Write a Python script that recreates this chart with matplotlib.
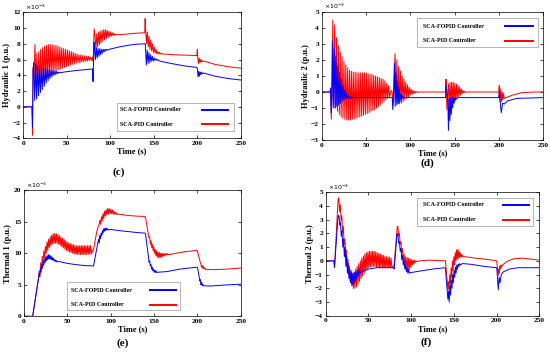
import matplotlib
matplotlib.use("Agg")
import matplotlib.pyplot as plt
from matplotlib.lines import Line2D
from matplotlib.patches import Rectangle

# all values are in units of 1e-3 p.u.
# a series is a list of pieces: plain knots (times, values) or an
# oscillation burst (start, period, peaks, troughs)

# ---- (c) Hydraulic 1 ----
c_fopid = [
    ([0, 10, 10.6, 11.2], [0, 0, -2.6, 4.6]),
    (12, 2.2, [5.6, 5.4, 5.2, 5.0, 5.0, 4.9, 4.9, 4.8, 4.7, 4.6, 4.6, 4.5, 4.5, 4.4, 4.4],
              [0.8, 1.0, 1.4, 1.8, 2.2, 2.6, 3.0, 3.3, 3.6, 3.8, 4.0, 4.1, 4.2, 4.3, 4.35]),
    ([46, 60, 79.6, 80.2, 81.4], [4.4, 4.6, 4.8, 3.2, 8.2]),
    (82, 2.0, [7.6, 7.5, 7.4, 7.4, 7.3, 7.3, 7.3, 7.3],
              [6.0, 6.2, 6.4, 6.6, 6.8, 7.0, 7.1, 7.2]),
    ([99, 110, 120, 130, 139.6, 140.2], [7.3, 7.6, 7.8, 7.95, 8.0, 8.0]),
    (140.5, 2.0, [7.5, 7.2, 6.9, 6.6, 6.4, 6.2, 6.1, 6.0],
                 [5.3, 5.5, 5.6, 5.8, 5.8, 5.9, 5.9, 5.9]),
    ([157, 170, 185, 199.6], [5.8, 5.5, 5.2, 5.0]),
    (200.2, 1.6, [4.8, 4.5, 4.4, 4.4], [3.8, 3.9, 4.1, 4.2]),
    ([207, 220, 235, 250], [4.3, 3.9, 3.6, 3.4]),
]
c_pid = [
    ([0, 10, 10.6], [0, 0, -3.6]),
    (11.2, 2.2, [5.0, 7.9, 6.8, 7.0, 7.3, 7.5, 7.7, 7.8, 7.9, 7.9, 7.9, 7.8, 7.8, 7.7, 7.6, 7.5,
                 7.4, 7.3, 7.2, 7.1, 7.0, 6.9, 6.8, 6.7, 6.6, 6.6, 6.5, 6.5, 6.4, 6.4, 6.3],
                [3.8, 3.0, 2.8, 2.9, 3.1, 3.3, 3.5, 3.7, 3.9, 4.1, 4.3, 4.4, 4.6, 4.7, 4.8, 4.9,
                 5.0, 5.1, 5.2, 5.3, 5.4, 5.4, 5.5, 5.6, 5.6, 5.7, 5.7, 5.8, 5.8, 5.9, 5.9]),
    ([79.6, 80.3, 81.5], [6.3, 5.8, 9.9]),
    (82.5, 2.0, [9.0, 9.3, 9.5, 9.6, 9.7, 9.8, 9.8, 9.7, 9.6, 9.5, 9.4, 9.3, 9.2],
                [7.3, 7.6, 7.9, 8.1, 8.3, 8.5, 8.7, 8.8, 8.9, 9.0, 9.05, 9.1, 9.15]),
    ([110, 120, 130, 139.6, 140.1], [9.15, 9.25, 9.35, 9.4, 11.2]),
    (140.6, 2.0, [10.0, 9.5, 9.0, 8.5, 8.0, 7.6, 7.3, 7.0, 6.9, 6.8],
                 [8.0, 7.6, 7.3, 7.1, 6.9, 6.8, 6.75, 6.7, 6.7, 6.7]),
    ([162, 175, 190, 199.6, 200.1], [6.7, 6.6, 6.55, 6.5, 7.3]),
    (200.6, 1.6, [6.3, 6.2, 6.0, 5.9], [5.5, 5.6, 5.7, 5.75]),
    ([208, 220, 235, 250], [5.8, 5.4, 5.1, 4.9]),
]

# ---- (d) Hydraulic 2 ----
d_fopid = [
    ([0, 9.5, 10, 10.6, 11.4], [0, 0, 0.25, -1.3, -0.3]),
    (12, 2.0, [3.2, 2.7, 2.2, 1.6, 1.2, 0.8, 0.4, 0.1, -0.1, -0.2, -0.3, -0.3, -0.35, -0.35],
              [-1.0, -1.0, -0.9, -0.8, -0.7, -0.6, -0.5, -0.45, -0.4, -0.4, -0.4, -0.38, -0.36, -0.35]),
    ([41, 79.6, 80.2, 81], [-0.35, -0.35, -1.1, -0.5]),
    (82, 1.8, [1.8, 1.2, 0.6, 0.2, -0.1, -0.2, -0.3],
              [-0.9, -0.8, -0.7, -0.6, -0.5, -0.4, -0.35]),
    ([96, 139.6, 140.4], [-0.35, -0.35, 0.4]),
    (142.2, 1.6, [-0.4, -0.4, -0.4, -0.35, -0.35, -0.35],
                 [-2.4, -1.8, -1.4, -1.0, -0.7, -0.5]),
    ([153, 199.6, 200.2, 202.6, 204, 206, 210, 220, 250],
     [-0.35, -0.35, 0.0, -1.3, -0.7, -0.75, -0.55, -0.4, -0.35]),
]
d_pid = [
    ([0, 9.5, 10, 10.8, 11.6], [0, 0, 0.2, -1.7, 0.0]),
    (12.5, 2.1, [4.5, 4.2, 3.4, 2.9, 2.5, 2.2, 1.9, 1.7, 1.5, 1.35, 1.3, 1.25, 1.25, 1.2, 1.2, 1.2,
                 1.2, 1.2, 1.2, 1.15, 1.1, 1.1, 1.05, 1.0, 0.95, 0.9, 0.85, 0.8, 0.7, 0.55, 0.4],
                [-0.8, -1.0, -1.2, -1.4, -1.55, -1.65, -1.7, -1.75, -1.75, -1.75, -1.7, -1.7, -1.65,
                 -1.6, -1.55, -1.5, -1.45, -1.4, -1.35, -1.3, -1.2, -1.15, -1.1, -1.0, -0.9, -0.8,
                 -0.7, -0.6, -0.5, -0.4, -0.3]),
    ([78.5, 79.5, 80.3, 81.5], [0.1, 0.0, -0.8, 0.5]),
    (82.8, 2.0, [2.4, 2.0, 1.6, 1.3, 1.0, 0.8, 0.6, 0.45, 0.3, 0.2, 0.1, 0.05, 0.02],
                [-0.6, -0.75, -0.75, -0.7, -0.6, -0.5, -0.4, -0.3, -0.2, -0.15, -0.1, -0.05, -0.02]),
    ([110, 139.6, 140.3, 141.2, 142], [0, 0, 0.8, -1.1, -0.3]),
    (143, 1.8, [0.5, 0.6, 0.6, 0.6, 0.55, 0.5, 0.4, 0.3, 0.2, 0.1, 0.05],
               [-1.0, -0.8, -0.7, -0.6, -0.5, -0.4, -0.3, -0.2, -0.1, -0.05, -0.02]),
    ([165, 199.6, 200.3, 201.2], [0, 0, 0.4, -0.6]),
    (202, 1.6, [0.2, 0.0, -0.1], [-0.6, -0.5, -0.4]),
    ([208, 215, 225, 240, 250], [-0.35, -0.2, -0.05, 0.0, 0.0]),
]

# ---- (e) Thermal 1 ----
e_fopid = [
    ([0, 10, 17], [0, 0, 6.2]),
    (17.5, 1.5, [6.8, 7.6, 8.2, 8.7, 9.1, 9.4, 9.6, 9.8, 9.7, 9.6, 9.4, 9.2, 9.0, 8.9],
                [6.3, 7.0, 7.6, 8.1, 8.5, 8.8, 9.0, 9.1, 9.1, 9.0, 8.9, 8.8, 8.7, 8.65]),
    ([40, 50, 60, 70, 79.6, 80.2, 84], [8.7, 8.4, 8.2, 8.05, 8.0, 8.0, 10.8]),
    (86, 1.5, [12.2, 12.8, 13.2, 13.6, 13.9, 14.0, 14.0, 13.9],
              [11.6, 12.3, 12.8, 13.2, 13.5, 13.6, 13.7, 13.7]),
    ([99, 110, 120, 130, 139.6, 140.2, 143], [13.8, 13.6, 13.45, 13.3, 13.2, 13.1, 10.0]),
    (143.5, 1.5, [9.6, 8.8, 8.2, 7.8, 7.5, 7.3, 7.2], [8.6, 8.0, 7.5, 7.2, 7.0, 6.95, 6.95]),
    ([155, 165, 180, 199.6, 200.2, 203], [7.0, 7.1, 7.5, 7.8, 7.7, 5.6]),
    (203.5, 1.4, [5.8, 5.4, 5.1], [5.0, 4.9, 4.85]),
    ([208, 215, 230, 250], [4.85, 4.8, 4.95, 5.1]),
]
e_pid = [
    ([0, 10, 17], [0, 0, 6.4]),
    (17.5, 1.8, [7.2, 8.5, 9.5, 10.4, 11.1, 11.8, 12.2, 12.6, 12.9, 13.1, 13.15, 13.1, 13.0, 12.8,
                 12.6, 12.4, 12.2, 12.0, 11.8, 11.65, 11.55, 11.45, 11.35, 11.25, 11.2, 11.2, 11.2,
                 11.2, 11.2, 11.2, 11.2, 11.2, 11.2, 11.25],
                [6.7, 7.6, 8.6, 9.3, 10.0, 10.5, 10.9, 11.2, 11.5, 11.55, 11.6, 11.55, 11.45, 11.25,
                 11.05, 10.85, 10.65, 10.45, 10.3, 10.2, 10.1, 10.0, 9.9, 9.85, 9.8, 9.8, 9.8, 9.8,
                 9.8, 9.8, 9.8, 9.85, 9.85, 9.9]),
    ([79.6, 80.2, 84, 87], [10.6, 10.6, 13.5, 14.8]),
    (87.5, 1.8, [15.2, 15.8, 16.3, 16.7, 16.9, 17.1, 17.1, 17.0, 16.9, 16.7, 16.5, 16.4],
                [14.6, 15.1, 15.5, 15.9, 16.1, 16.2, 16.3, 16.3, 16.2, 16.2, 16.2, 16.15]),
    ([110, 120, 130, 139.6, 140.2, 144], [16.2, 16.0, 15.9, 15.85, 15.7, 12.5]),
    (145, 1.6, [12.6, 12.0, 11.4, 11.0, 10.6, 10.4, 10.2, 10.1, 10.0, 10.0, 9.95, 9.95, 9.95, 9.95],
               [11.4, 10.9, 10.4, 10.0, 9.6, 9.4, 9.3, 9.3, 9.4, 9.5, 9.6, 9.7, 9.75, 9.8]),
    ([168, 175, 185, 199.6, 200.2, 203.5], [9.8, 10.0, 10.25, 10.45, 10.3, 8.5]),
    (204, 1.5, [8.4, 8.1, 7.9, 7.7], [7.8, 7.6, 7.5, 7.45]),
    ([211, 220, 235, 250], [7.45, 7.4, 7.5, 7.65]),
]

# ---- (f) Thermal 2 ----
f_fopid = [
    ([0, 9.7, 10.3, 14.5], [0, 0, -0.5, 3.3]),
    (15.5, 1.8, [3.3, 2.8, 2.2, 1.6, 1.0, 0.4, -0.2, -0.6, -0.8, -0.9, -0.85, -0.8, -0.7, -0.6],
                [2.6, 1.8, 1.0, 0.3, -0.4, -0.9, -1.3, -1.6, -1.8, -1.7, -1.5, -1.3, -1.1, -0.9]),
    ([42, 50, 60, 79.6, 80.2, 83.5], [-0.8, -0.6, -0.5, -0.5, -0.6, 2.0]),
    (84.5, 1.8, [1.9, 1.4, 0.9, 0.4, 0.0, -0.3, -0.5, -0.6],
                [1.3, 0.7, 0.1, -0.3, -0.6, -0.8, -0.9, -0.9]),
    ([100, 110, 125, 139.6, 140.2, 143], [-0.85, -0.75, -0.6, -0.5, -0.6, -2.8]),
    (143.8, 1.6, [-2.2, -1.8, -1.4, -1.0, -0.7, -0.45, -0.3, -0.25, -0.2],
                 [-3.0, -2.5, -2.0, -1.6, -1.2, -0.9, -0.6, -0.4, -0.3]),
    ([160, 170, 185, 199.6, 200.2, 202, 203, 204, 205.5, 208, 215, 225, 250],
     [-0.2, -0.25, -0.4, -0.5, -0.5, -2.1, -1.2, -1.6, -1.0, -0.8, -0.6, -0.5, -0.5]),
]
f_pid = [
    ([0, 9.7, 10.3, 14.5], [0, 0, -0.5, 4.5]),
    (15.3, 1.8, [4.6, 4.1, 3.3, 2.5, 1.6, 0.8, 0.1, -0.4, -0.7, -0.9, -0.8, -0.6, -0.4, -0.2, 0.0,
                 0.2, 0.35, 0.5, 0.6, 0.65, 0.7, 0.7, 0.7, 0.7, 0.65, 0.6, 0.55, 0.5, 0.45, 0.4,
                 0.35, 0.3, 0.3, 0.25, 0.2],
                [3.6, 2.9, 2.0, 1.2, 0.4, -0.4, -1.0, -1.5, -1.8, -2.0, -2.0, -1.9, -1.7, -1.5, -1.3,
                 -1.1, -0.9, -0.75, -0.6, -0.5, -0.45, -0.4, -0.4, -0.4, -0.45, -0.45, -0.5, -0.5,
                 -0.5, -0.5, -0.5, -0.5, -0.5, -0.5, -0.5]),
    ([80, 83.8], [-0.3, 2.5]),
    (84.5, 1.8, [2.5, 2.0, 1.4, 0.9, 0.5, 0.3, 0.25, 0.2, 0.15, 0.1, 0.05, 0.05, 0.0],
                [1.8, 1.2, 0.6, 0.0, -0.4, -0.6, -0.7, -0.6, -0.5, -0.3, -0.2, -0.1, -0.05]),
    ([110, 120, 139.6, 140.2, 143], [0.0, 0.05, 0.0, 0.0, -2.1]),
    (143.6, 1.6, [-1.5, -1.0, -0.5, 0.0, 0.3, 0.6, 0.8, 0.85, 0.7, 0.55, 0.45, 0.35],
                 [-2.1, -1.7, -1.2, -0.7, -0.3, 0.0, 0.1, 0.2, 0.25, 0.3, 0.3, 0.3]),
    ([164, 175, 190, 199.6, 200.2, 201.8], [0.3, 0.2, 0.1, 0.0, 0.0, -1.1]),
    (202.4, 1.4, [-0.6, -0.4, -0.3], [-0.9, -0.6, -0.45]),
    ([207, 212, 220, 230, 250], [-0.3, -0.05, 0.15, 0.2, 0.05]),
]

labels = ["SCA-FOPID Controller", "SCA-PID Controller"]
xticks = [0, 50, 100, 150, 200, 250]

SERIF = ["Liberation Serif", "DejaVu Serif"]
W, H = 550.0, 356.0


def build(pieces):
    t, y = [], []
    for p in pieces:
        if len(p) == 2:
            t += list(p[0])
            y += list(p[1])
        else:
            t0, per, hi, lo = p
            for i in range(len(hi)):
                t += [t0 + i * per, t0 + (i + 0.5) * per]
                y += [hi[i], lo[i]]
    return t, y


def fx(px):
    return px / W


def fy(py):
    return 1 - py / H


def legend_box(fig, box, textx, rows, line):
    # box drawn by hand so the labels stay left aligned like the original
    l, t, r, b = box
    fig.add_artist(Rectangle((fx(l), fy(b)), fx(r) - fx(l), fy(t) - fy(b),
                             transform=fig.transFigure, facecolor="white",
                             edgecolor="#999999", lw=0.5, zorder=5))
    for lab, col, ry in zip(labels, ["#0000ff", "#ff0000"], rows):
        fig.text(fx(textx), fy(ry), lab, family=SERIF, fontweight="bold", fontsize=4.3,
                 ha="left", va="center", zorder=6)
        fig.add_artist(Line2D([fx(line[0]), fx(line[1])], [fy(ry), fy(ry)],
                              transform=fig.transFigure, color=col, lw=1.4, zorder=6))


def panel(fig, rect, fopid, pid, ylabel, ylim, ystep, tag, tagpos):
    l, t, r, b = rect
    ax = fig.add_axes([fx(l), fy(b), (r - l) / W, (b - t) / H])
    tp, yp = build(pid)
    tf, yf = build(fopid)
    ax.plot(tp, yp, color="#ff0000", lw=0.7)
    ax.plot(tf, yf, color="#0000ff", lw=0.7)
    ax.set_xlim(0, 250)
    ax.set_ylim(*ylim)
    ax.set_xticks(xticks)
    ax.set_yticks(list(range(ylim[0], ylim[1] + 1, ystep)))
    ax.tick_params(direction="in", length=2, width=0.5, top=True, right=True,
                   labelsize=5.3, pad=2)
    for lab in ax.get_xticklabels() + ax.get_yticklabels():
        lab.set_family(SERIF)
        lab.set_fontweight("bold")
    for s in ax.spines.values():
        s.set_linewidth(0.5)
    ax.set_xlabel("Time (s)", family=SERIF, fontweight="bold", fontsize=6, labelpad=1)
    ax.set_ylabel(ylabel, family=SERIF, fontweight="bold", fontsize=6, labelpad=1)
    ax.text(0.01, 1.005, r"$\times10^{-3}$", transform=ax.transAxes, fontsize=4.5,
            va="bottom", ha="left", family=SERIF)
    fig.text(fx(tagpos[0]), fy(tagpos[1]), tag, family=SERIF, fontweight="bold", fontsize=8,
             ha="center", va="center")
    return ax


def main():
    fig = plt.figure(figsize=(5.5, 3.56), dpi=100)

    panel(fig, (23.3, 12.3, 240.7, 138.3), c_fopid, c_pid, "Hydraulic 1 (p.u.)",
          (-4, 12), 2, "(c)", (119, 172))
    panel(fig, (321.7, 12, 543.3, 140), d_fopid, d_pid, "Hydraulic 2 (p.u.)",
          (-3, 5), 1, "(d)", (427, 163))
    panel(fig, (24, 190.3, 240.7, 316.3), e_fopid, e_pid, "Thermal 1 (p.u.)",
          (0, 20), 5, "(e)", (123, 343))
    panel(fig, (325.7, 192.3, 539.3, 315.7), f_fopid, f_pid, "Thermal 2 (p.u.)",
          (-4, 5), 1, "(f)", (426, 342))

    legend_box(fig, (117, 103, 234, 131), 120, (109.5, 124), (202, 228))
    legend_box(fig, (417, 18, 538, 47), 423, (26, 41), (505, 533))
    legend_box(fig, (67, 282, 180, 310), 71, (290, 305), (150, 176))
    legend_box(fig, (417, 198, 533, 226), 423, (205, 220), (503, 529))

    fig.savefig("out.png", dpi=100, facecolor="white")


main()
